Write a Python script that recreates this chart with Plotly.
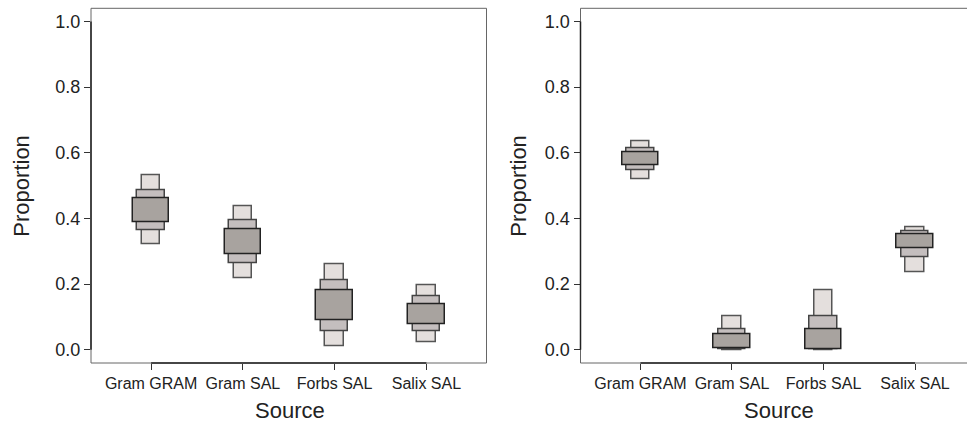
import plotly.graph_objects as go

W, H = 967, 422

sources = ["Gram GRAM", "Gram SAL", "Forbs SAL", "Salix SAL"]
ytick_vals = [0.0, 0.2, 0.4, 0.6, 0.8, 1.0]
ytick_text = ["0.0", "0.2", "0.4", "0.6", "0.8", "1.0"]

# Panel 1 credible intervals (low, high) for 95%, 75%, 50%
p1_lo95 = [0.322, 0.217, 0.011, 0.023]
p1_hi95 = [0.531, 0.437, 0.262, 0.196]
p1_lo75 = [0.363, 0.264, 0.058, 0.056]
p1_hi75 = [0.485, 0.393, 0.213, 0.163]
p1_lo50 = [0.389, 0.291, 0.090, 0.079]
p1_hi50 = [0.460, 0.367, 0.181, 0.140]

# Panel 2
p2_lo95 = [0.520, 0.000, 0.000, 0.236]
p2_hi95 = [0.635, 0.101, 0.181, 0.374]
p2_lo75 = [0.547, 0.002, 0.001, 0.283]
p2_hi75 = [0.615, 0.064, 0.103, 0.362]
p2_lo50 = [0.562, 0.005, 0.003, 0.308]
p2_hi50 = [0.602, 0.048, 0.064, 0.353]

xpos = [1, 2, 3, 4]

levels = [
    # (lo, hi, width, fill, border)
    ("95", 0.20, "#e4dfdd", "#555555"),
    ("75", 0.30, "#c4bebe", "#444444"),
    ("50", 0.40, "#a8a39f", "#222222"),
]

fig = go.Figure()


def add_panel(xa, ya, data):
    for (name, width, fill, border) in levels:
        lo, hi = data[name]
        fig.add_trace(go.Bar(
            x=xpos, y=[h - l for l, h in zip(lo, hi)], base=lo,
            width=width, marker=dict(color=fill, line=dict(color=border, width=1.5)),
            xaxis=xa, yaxis=ya, showlegend=False, hoverinfo="skip",
        ))


add_panel("x", "y", {"95": (p1_lo95, p1_hi95), "75": (p1_lo75, p1_hi75), "50": (p1_lo50, p1_hi50)})
add_panel("x2", "y2", {"95": (p2_lo95, p2_hi95), "75": (p2_lo75, p2_hi75), "50": (p2_lo50, p2_hi50)})

p1_x0, p1_x1 = 91 / W, 486.5 / W
p2_x0, p2_x1 = 580.5 / W, 1.0
y0, y1 = (H - 363) / H, (H - 8.3) / H

xr1 = [0.345, 4.655]
xr2 = [0.345, 4.568]
yr = [-0.04, 1.04]

tickfont_x = dict(family="Liberation Sans, Arial, sans-serif", size=16, color="#222222")
tickfont_y = dict(family="Liberation Sans, Arial, sans-serif", size=18, color="#222222")

common_x = dict(tickmode="array", tickvals=xpos, ticktext=sources, ticks="outside", ticklen=6,
                tickwidth=1.2, tickcolor="#333333", showgrid=False, zeroline=False, showline=False,
                tickfont=tickfont_x, fixedrange=True)
common_y = dict(tickmode="array", tickvals=ytick_vals, ticktext=ytick_text, ticks="outside", ticklen=6,
                tickwidth=1.2, tickcolor="#333333", showgrid=False, zeroline=False, showline=False,
                tickfont=tickfont_y, range=yr, fixedrange=True)

fig.update_layout(
    width=W, height=H, margin=dict(l=0, r=0, t=0, b=0),
    paper_bgcolor="white", plot_bgcolor="white", barmode="overlay", bargap=0,
    xaxis=dict(domain=[p1_x0, p1_x1], range=xr1, anchor="y", **common_x),
    yaxis=dict(domain=[y0, y1], anchor="x", **common_y),
    xaxis2=dict(domain=[p2_x0, p2_x1], range=xr2, anchor="y2", **common_x),
    yaxis2=dict(domain=[y0, y1], anchor="x2", **common_y),
)

frame_col = "#666666"
axis_col = "#222222"
shapes = []
# Panel 1 frame (full box)
shapes.append(dict(type="rect", xref="x domain", yref="y domain", x0=0, x1=1, y0=0, y1=1,
                   line=dict(color=frame_col, width=1), layer="below"))
# Panel 2 frame (left, top, bottom only; right side outside canvas)
for seg in [(0, 0, 0, 1), (0, 1, 1.02, 1), (0, 0, 1.02, 0)]:
    shapes.append(dict(type="line", xref="x2 domain", yref="y2 domain", x0=seg[0], y0=seg[1],
                       x1=seg[2], y1=seg[3], line=dict(color=frame_col, width=1), layer="below"))
# R-style axis lines spanning first to last tick
for xa, ya in [("x", "y"), ("x2", "y2")]:
    shapes.append(dict(type="line", xref=xa, yref=ya + " domain", x0=xpos[0], x1=xpos[-1], y0=0, y1=0,
                       line=dict(color=axis_col, width=1.5)))
    shapes.append(dict(type="line", xref=xa + " domain", yref=ya, x0=0, x1=0, y0=ytick_vals[0],
                       y1=ytick_vals[-1], line=dict(color=axis_col, width=1.5)))
fig.update_layout(shapes=shapes)

title_font = dict(family="Liberation Sans, Arial, sans-serif", size=22, color="#222222")
ymid = (H - (8.3 + 363) / 2) / H
annotations = [
    dict(text="Proportion", textangle=-90, x=22 / W, y=ymid, xref="paper", yref="paper",
         showarrow=False, font=title_font, xanchor="center", yanchor="middle"),
    dict(text="Proportion", textangle=-90, x=519 / W, y=ymid, xref="paper", yref="paper",
         showarrow=False, font=title_font, xanchor="center", yanchor="middle"),
    dict(text="Source", x=289.5 / W, y=(H - 410) / H, xref="paper", yref="paper",
         showarrow=False, font=title_font, xanchor="center", yanchor="middle"),
    dict(text="Source", x=778.5 / W, y=(H - 410) / H, xref="paper", yref="paper",
         showarrow=False, font=title_font, xanchor="center", yanchor="middle"),
]
fig.update_layout(annotations=annotations)

fig.write_html("out.html")
